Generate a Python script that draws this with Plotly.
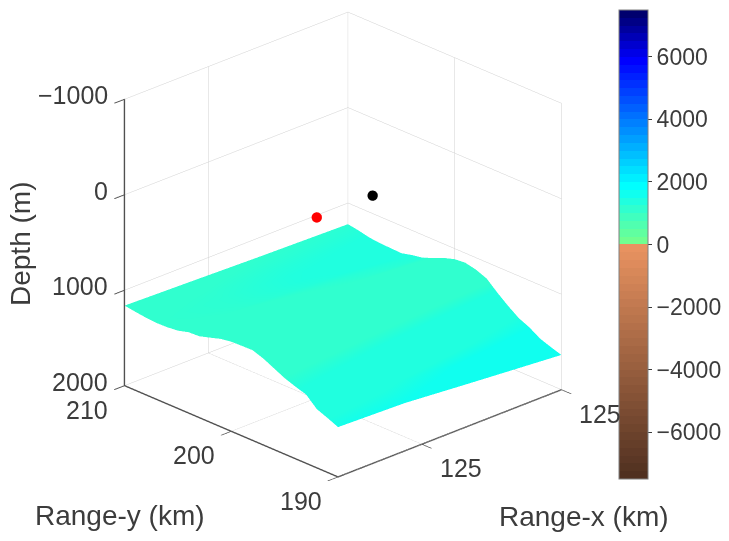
import math
import plotly.graph_objects as go

# ---- data ----
range_x_km = [124.6, 124.84, 125.08, 125.4]
range_y_km = [210, 209, 208, 207, 206, 205, 204, 203, 202, 201, 200,
              199, 198, 197, 196, 195, 194, 193, 192, 191, 190]
depth_m = [
    [1161, 1180, 1200, 1221],
    [1178, 1195, 1218, 1240],
    [1192, 1208, 1240, 1265],
    [1200, 1215, 1255, 1277],
    [1197, 1215, 1258, 1281],
    [1185, 1210, 1245, 1286],
    [1154, 1180, 1215, 1258],
    [1148, 1165, 1195, 1238],
    [1115, 1135, 1160, 1192],
    [1080, 1100, 1125, 1145],
    [1062, 1080, 1095, 1110],
    [1058, 1070, 1085, 1100],
    [1056, 1080, 1105, 1125],
    [1095, 1120, 1145, 1170],
    [1150, 1180, 1215, 1270],
    [1205, 1240, 1290, 1360],
    [1245, 1290, 1360, 1440],
    [1280, 1340, 1410, 1490],
    [1385, 1420, 1490, 1560],
    [1430, 1460, 1525, 1600],
    [1479, 1500, 1560, 1636],
]
red_point = (125.07, 204.3, 500)
black_point = (125.27, 204.3, 500)
depth_ticks = [-1000, 0, 1000, 2000]
depth_tick_labels = ["\u22121000", "0", "1000", "2000"]
y_ticks = [190, 200, 210]
x_ticks = [124.9, 125.4]
x_tick_labels = ["125", "125"]
colorbar_ticks = [-6000, -4000, -2000, 0, 2000, 4000, 6000]

# ---- colormap: 60 flat bands between -7500 and 7500 ----
CMIN, CMAX, N = -7500, 7500, 60
ramp = [(-7500, (75, 45, 30)), (0, (232, 146, 96)), (0.001, (128, 255, 128)),
        (2000, (0, 255, 255)), (6000, (0, 0, 255)), (7500, (0, 0, 110))]

def ramp_colour(v):
    for (a, ca), (b, cb) in zip(ramp, ramp[1:]):
        if a <= v <= b:
            f = (v - a) / (b - a)
            return tuple(round(p + (q - p) * f) for p, q in zip(ca, cb))
    return ramp[-1][1]

colorscale = []
for k in range(N):
    c = ramp_colour(CMIN + (k + 1) * (CMAX - CMIN) / N)
    s = f"rgb{c}".replace(" ", "")
    colorscale += [[k / N, s], [(k + 1) / N, s]]

FONT = "Liberation Sans"
INK = "#3c3c3c"
PAGE = 8  # the page body adds this margin round the figure

fig = go.Figure()
fig.add_trace(go.Surface(
    x=range_x_km, y=range_y_km, z=depth_m, surfacecolor=depth_m,
    cmin=CMIN, cmax=CMAX, colorscale=colorscale,
    lighting=dict(ambient=1, diffuse=0, specular=0, fresnel=0, roughness=1),
    colorbar=dict(
        x=(619 - PAGE) / 729, xanchor="left", xpad=0, ypad=0,
        y=1 - (10 - PAGE) / 541, yanchor="top",
        lenmode="pixels", len=469, thicknessmode="pixels", thickness=29,
        tickmode="array", tickvals=colorbar_ticks, ticks="outside", ticklen=4,
        tickcolor=INK, outlinecolor="#808080", outlinewidth=1,
        tickfont=dict(family=FONT, size=23, color=INK),
    ),
))
for pt, col in ((red_point, "#ff0000"), (black_point, "#000000")):
    fig.add_trace(go.Scatter3d(x=[pt[0]], y=[pt[1]], z=[pt[2]], mode="markers",
                               marker=dict(size=6, color=col), showlegend=False))

axis = dict(
    showbackground=False, showgrid=True, gridcolor="#d0d0d0", gridwidth=1,
    showline=True, linecolor="#505050", linewidth=3, zeroline=False,
    ticks="outside", ticklen=14, tickwidth=2, tickcolor="#505050", showticklabels=False,
    showspikes=False, title=dict(text=""),
)
AZ, EL = math.radians(43.7), math.radians(24.1)
R = 2.0
ZOOM = 1.307
ZOOM_Z = 1.307 * 1.015
title_font = dict(family=FONT, size=28, color=INK)
tick_font = dict(family=FONT, size=25, color=INK)

def label(text, px, py, angle=0):
    return dict(text=text, x=(px - PAGE) / 729, y=1 - (py - PAGE) / 541, textangle=angle,
                xanchor="center", yanchor="middle", showarrow=False,
                xref="paper", yref="paper", font=title_font)

def tick_text(text, x, y, z, anchor, dx, dy):
    return dict(text=text, x=x, y=y, z=z, showarrow=False, font=tick_font,
                xanchor=anchor, yanchor="middle", xshift=dx, yshift=dy)

tick_texts = (
    [tick_text(t, 124.6, 210, v, "right", -14, 4)
     for v, t in zip(depth_ticks, depth_tick_labels)]
    + [tick_text(str(v), 124.6, v, 2000, "right", -14, -24) for v in y_ticks]
    + [tick_text(t, v, 190, 2000, "left", 16, -24) for v, t in zip(x_ticks, x_tick_labels)]
)

fig.update_layout(
    width=729, height=541, autosize=False, showlegend=False,
    margin=dict(l=0, r=0, t=0, b=0), paper_bgcolor="white",
    scene=dict(
        domain=dict(x=[0, 0.919], y=[0.126, 1]),
        aspectmode="manual", aspectratio=dict(x=ZOOM, y=ZOOM, z=ZOOM_Z),
        camera=dict(
            projection=dict(type="orthographic"),
            eye=dict(x=-R * math.cos(EL) * math.sin(AZ),
                     y=-R * math.cos(EL) * math.cos(AZ),
                     z=R * math.sin(EL)),
            up=dict(x=0, y=0, z=1), center=dict(x=0, y=0, z=0),
        ),
        xaxis=dict(axis, range=[124.6, 125.4], tickmode="array",
                   tickvals=x_ticks, ticktext=x_tick_labels),
        yaxis=dict(axis, range=[190, 210], tickmode="array", tickvals=y_ticks),
        zaxis=dict(axis, range=[2000, -1000], tickmode="array", tickvals=depth_ticks),
        annotations=tick_texts,
    ),
    annotations=[
        label("Depth (m)", 21, 244, -90),
        label("Range-y (km)", 120, 515),
        label("Range-x (km)", 584, 516),
    ],
)
fig.write_html("out.html")
